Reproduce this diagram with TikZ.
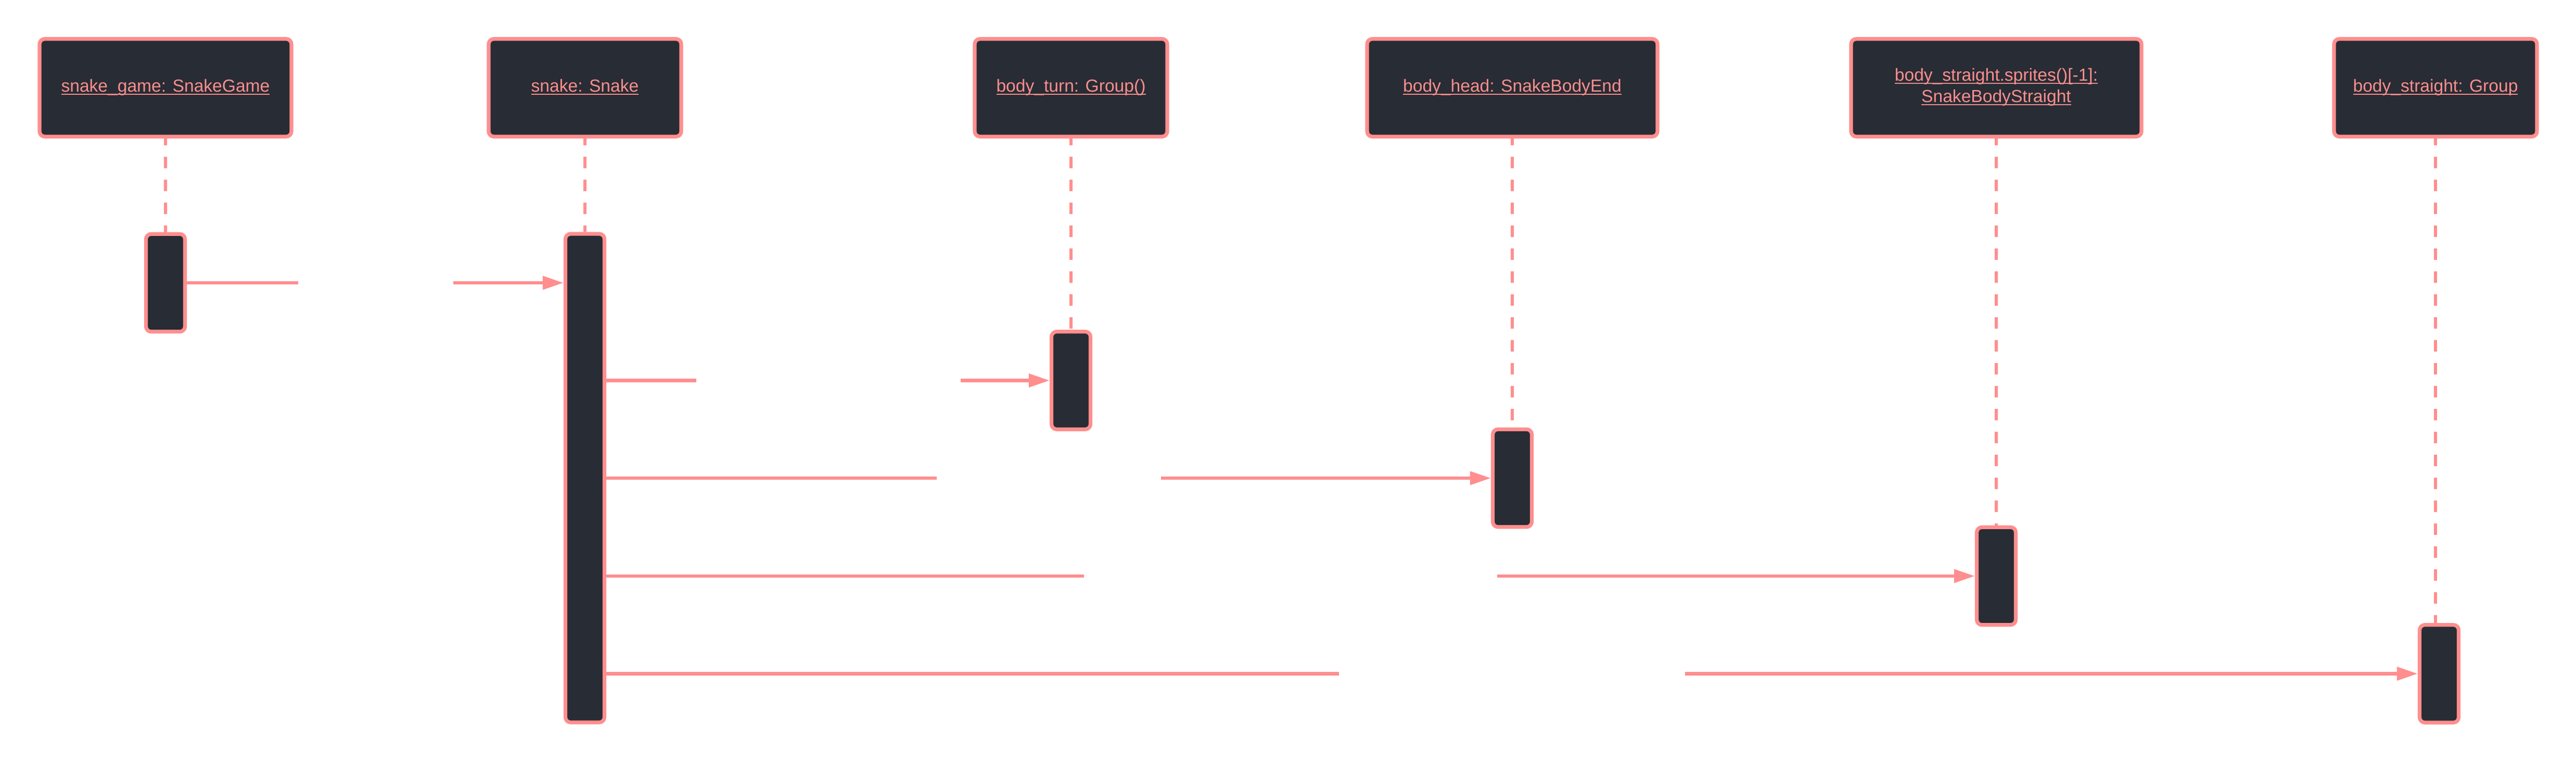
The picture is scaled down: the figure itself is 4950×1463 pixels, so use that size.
\documentclass[tikz,border=0pt]{standalone}
\usepackage{fontspec}
\setmainfont{Liberation Sans}
\usetikzlibrary{arrows.meta,backgrounds}
\definecolor{pk}{RGB}{255,142,142}
\definecolor{dk}{RGB}{40,44,52}
\newsavebox\ulbox
\newcommand\ulx[1]{\sbox\ulbox{#1}\rlap{\rule[-1.3125pt]{\wd\ulbox}{0.625pt}}\usebox\ulbox}
\newcommand\twoline[2]{\vbox{\halign{\hfil##\hfil\cr\ulx{#1}\cr\ulx{#2}\cr}}}
\begin{document}
\begin{tikzpicture}[x=0.25pt,y=-0.25pt,
  actor/.style={draw=pk, fill=dk, line width=1.8pt, rounded corners=2.5pt,
    minimum height=46.875pt, inner sep=0pt, text=pk,
    font=\fontsize{8.4pt}{10.25pt}\selectfont, text height=6.25pt, text depth=2pt},
  actbar/.style={draw=pk, fill=dk, line width=1.8pt, rounded corners=2.5pt,
    minimum width=18.75pt, minimum height=46.875pt, inner sep=0pt},
  life/.style={draw=pk, line width=1.4pt, dash pattern=on 5.5pt off 5.5pt, dash phase=2.3pt},
  msg/.style={draw=pk, line width=1.65pt, -{Triangle[length=10pt,width=6.25pt]}},
  gap/.style 2 args={dash pattern=on #1 off #2 on 2000pt}]
\useasboundingbox (0,0) rectangle (4950,1463);
% actors
\node[actor, minimum width=121pt] (A1) at (318,168.5) {\ulx{snake\_game: SnakeGame}};
\node[actor, minimum width=92.5pt] (A2) at (1124,168.5) {\ulx{snake: Snake}};
\node[actor, minimum width=92.5pt] (A3) at (2058,168.5) {\ulx{body\_turn: Group()}};
\node[actor, minimum width=139.5pt] (A4) at (2906,168.5) {\ulx{body\_head: SnakeBodyEnd}};
\node[actor, minimum width=139.5pt, text height=15.25pt, text depth=1pt] (A5) at (3836,168.5)
  {\twoline{body\_straight.sprites()[-1]:}{SnakeBodyStraight}};
\node[actor, minimum width=97.5pt] (A6) at (4680,168.5) {\ulx{body\_straight: Group}};
% activations
\node[actbar] (act1) at (318,543) {};
\node[actbar, minimum height=234.5pt] (act2) at (1124,918) {};
\node[actbar] (act3) at (2058,730.5) {};
\node[actbar] (act4) at (2906,918) {};
\node[actbar] (act5) at (3836,1106) {};
\node[actbar] (act6) at (4687,1293.5) {};
% lifelines
\begin{pgfonlayer}{background}
\draw[life] (A1.south) -- (A1.south |- act1.north);
\draw[life] (A2.south) -- (A2.south |- act2.north);
\draw[life] (A3.south) -- (A3.south |- act3.north);
\draw[life] (A4.south) -- (A4.south |- act4.north);
\draw[life] (A5.south) -- (A5.south |- act5.north);
\draw[life] (A6.south) -- (A6.south |- act6.north);
\end{pgfonlayer}
% messages
\draw[msg, gap={53.5pt}{74.5pt}] (act1.east) -- (act2.west |- act1.east);
\draw[msg, gap={43.25pt}{127pt}] (act2.east |- act3.west) -- (act3.west);
\draw[msg, gap={158.75pt}{107.75pt}] (act2.east |- act4.west) -- (act4.west);
\draw[msg, gap={229.5pt}{198.5pt}] (act2.east |- act5.west) -- (act5.west);
\draw[msg, gap={352pt}{166.25pt}] (act2.east |- act6.west) -- (act6.west);
\end{tikzpicture}
\end{document}
